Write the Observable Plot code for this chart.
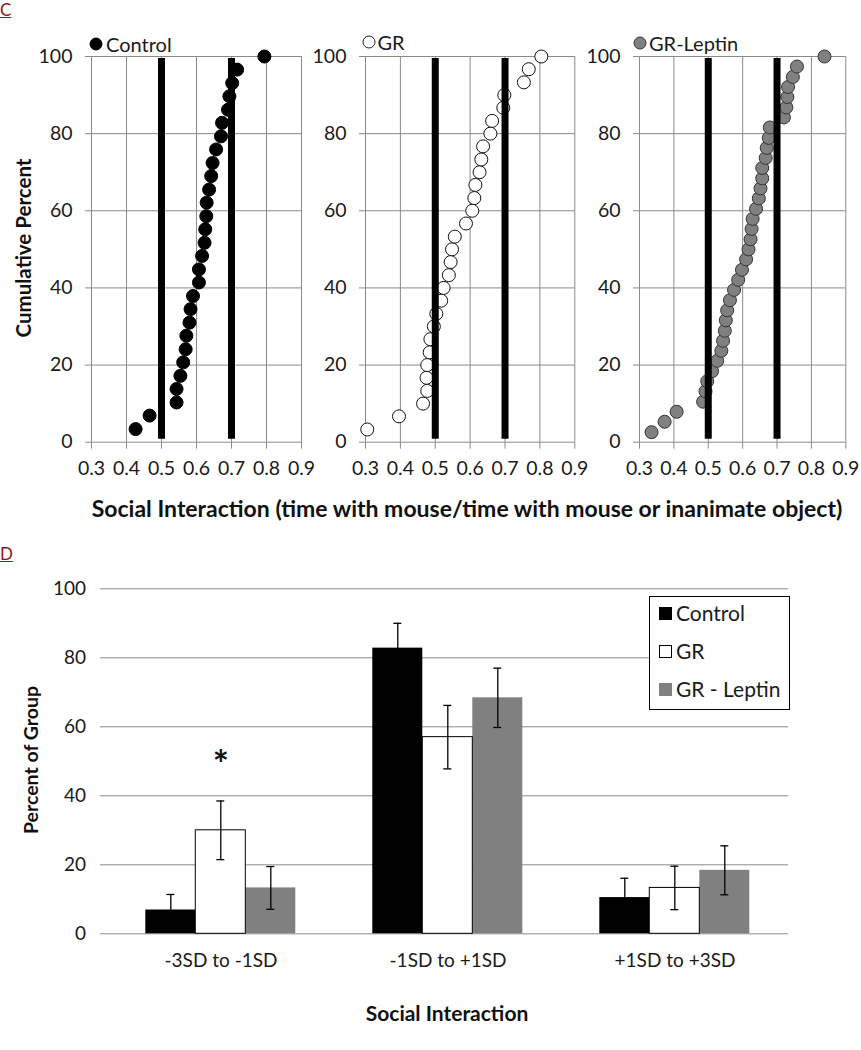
<!DOCTYPE html>
<html>
<head>
<meta charset="utf-8">
<script src="https://cdn.jsdelivr.net/npm/d3@7"></script>
<script src="https://cdn.jsdelivr.net/npm/@observablehq/plot@0.6"></script>
<style>
  html, body { margin: 0; padding: 0; background: #fff; }
  #root { position: relative; width: 861px; height: 1050px; background: #fff; overflow: hidden; font-family: Lato, "Open Sans", sans-serif; color: #1a1a1a; }
  .abs { position: absolute; white-space: nowrap; line-height: 1; }
  .ctr { transform: translate(-50%, -50%); }
  .rot { transform: translate(-50%, -50%) rotate(-90deg); }
  .panelLetter { color: #8b1a1a; text-decoration: underline; font-size: 17px; }
  .bold { font-weight: 700; color: #111; }
  .legbox { position: absolute; border: 1px solid #000; background: #fff; box-sizing: border-box; }
  .sw { position: absolute; width: 13px; height: 13px; box-sizing: border-box; }
  .dotk { position: absolute; width: 13px; height: 13px; border-radius: 50%; box-sizing: border-box; transform: translate(-50%, -50%); }
</style>
</head>
<body>
<div id="root"></div>
<script>
// ---------------- DATA ----------------
// Panel C: cumulative distributions (social interaction ratio vs cumulative percent)
const controlX = [0.426,0.466,0.543,0.543,0.554,0.562,0.569,0.571,0.580,0.583,0.590,0.607,0.607,0.616,0.623,0.625,0.628,0.629,0.636,0.642,0.646,0.656,0.670,0.673,0.690,0.694,0.702,0.716,0.794];
const controlY = [3.4,6.9,10.3,13.8,17.2,20.7,24.1,27.6,31.0,34.5,37.9,41.4,44.8,48.3,51.7,55.2,58.6,62.1,65.5,69.0,72.4,75.9,79.3,82.8,86.2,89.7,93.1,96.6,100];
const grX = [0.305,0.396,0.465,0.477,0.475,0.477,0.484,0.486,0.496,0.503,0.517,0.524,0.539,0.544,0.548,0.556,0.588,0.606,0.612,0.615,0.627,0.632,0.637,0.658,0.663,0.695,0.698,0.754,0.768,0.804];
const grY = [3.3,6.7,10,13.3,16.7,20,23.3,26.7,30,33.3,36.7,40,43.3,46.7,50,53.3,56.7,60,63.3,66.7,70,73.3,76.7,80,83.3,86.7,90,93.3,96.7,100];
const leptinX = [0.335,0.373,0.408,0.485,0.492,0.497,0.511,0.526,0.538,0.543,0.548,0.551,0.555,0.563,0.575,0.587,0.598,0.610,0.617,0.623,0.626,0.629,0.639,0.647,0.652,0.657,0.657,0.667,0.670,0.676,0.679,0.720,0.727,0.730,0.732,0.746,0.758,0.838];
const leptinY = [2.6,5.3,7.9,10.5,13.2,15.8,18.4,21.1,23.7,26.3,28.9,31.6,34.2,36.8,39.5,42.1,44.7,47.4,50,52.6,55.3,57.9,60.5,63.2,65.8,68.4,71.1,73.7,76.3,78.9,81.6,84.2,86.8,89.5,92.1,94.7,97.4,100];
const refLines = [0.5, 0.7];
const cXTicks = [0.3,0.4,0.5,0.6,0.7,0.8,0.9];
const cYTicks = [0,20,40,60,80,100];
const panelNames = ["Control", "GR", "GR-Leptin"];

// Panel D: percent of group per social-interaction band
const categories = ["-3SD to -1SD", "-1SD to +1SD", "+1SD to +3SD"];
const series = ["Control", "GR", "GR - Leptin"];
const controlPct = [6.9, 82.8, 10.5];
const grPct = [30.0, 57.0, 13.3];
const leptinPct = [13.3, 68.4, 18.4];
const controlErr = [4.5, 7.2, 5.6];
const grErr = [8.5, 9.2, 6.3];
const leptinErr = [6.2, 8.6, 7.1];
const dYTicks = [0,20,40,60,80,100];
const starCategory = "-3SD to -1SD";
const starSeries = "GR";
const starValue = 48.8;

// ---------------- LAYOUT ----------------
const root = document.getElementById("root");
const GRID = "#8a8a8a";
const TXT = "#1a1a1a";

function addDiv(cls, html, css) {
  const d = document.createElement("div");
  d.className = cls;
  d.innerHTML = html;
  Object.assign(d.style, css);
  root.appendChild(d);
  return d;
}

// ---------------- PANEL C ----------------
const panels = [
  {xs: controlX, ys: controlY, fill: "#000", stroke: "#000", left: 0, width: 310, ml: 91, mr: 9},
  {xs: grX, ys: grY, fill: "#fff", stroke: "#111", left: 310, width: 275, ml: 55, mr: 10.7},
  {xs: leptinX, ys: leptinY, fill: "#808080", stroke: "#333", left: 585, width: 276, ml: 54, mr: 15.7}
];

panels.forEach((p, k) => {
  const data = p.xs.map((x, i) => ({x, y: p.ys[i]}));
  const svg = Plot.plot({
    width: p.width, height: 490,
    marginTop: 56, marginBottom: 48.3, marginLeft: p.ml, marginRight: p.mr,
    style: {background: "transparent", overflow: "visible", fontFamily: "Lato", fontSize: "19.5px", color: TXT},
    x: {domain: [0.3, 0.9], label: null},
    y: {domain: [0, 100], label: null},
    marks: [
      Plot.gridX({ticks: cXTicks, stroke: GRID, strokeOpacity: 1, strokeWidth: 1}),
      Plot.gridY({ticks: cYTicks, stroke: GRID, strokeOpacity: 1, strokeWidth: 1}),
      Plot.axisX({ticks: cXTicks, tickFormat: d3.format(".1f"), tickSize: 7, tickPadding: 12, stroke: GRID, label: null}),
      Plot.axisY({ticks: cYTicks, tickSize: 6, tickPadding: 13, stroke: GRID, label: null}),
      Plot.dot(data, {x: "x", y: "y", r: 6.5, fill: p.fill, stroke: p.stroke, strokeWidth: 1}),
      Plot.ruleX(refLines, {y1: 0, y2: 100, insetTop: -3, insetBottom: -2, stroke: "#000", strokeWidth: 7})
    ]
  });
  svg.style.position = "absolute";
  svg.style.left = p.left + "px";
  svg.style.top = "0px";
  root.appendChild(svg);
});

// Panel C legends (one per panel)
const cLegends = [
  {cx: 96, cy: 44, tx: 106, fill: "#000", border: "#000"},
  {cx: 368.5, cy: 42, tx: 377.5, fill: "#fff", border: "#222"},
  {cx: 639.5, cy: 43, tx: 649, fill: "#808080", border: "#333"}
];
cLegends.forEach((l, k) => {
  addDiv("dotk", "", {left: l.cx + "px", top: l.cy + "px", background: l.fill, border: "1px solid " + l.border});
  addDiv("abs", panelNames[k], {left: l.tx + "px", top: (l.cy - 10.5) + "px", fontSize: "20px", color: TXT});
});

// Panel C titles
addDiv("abs panelLetter", "C", {left: "0px", top: "1px"});
addDiv("abs rot bold", "Cumulative Percent", {left: "23px", top: "248px", fontSize: "20.5px"});
addDiv("abs ctr bold", "Social Interaction (time with mouse/time with mouse or inanimate object)", {left: "467px", top: "508px", fontSize: "23px"});

// ---------------- PANEL D ----------------
const pctBySeries = [controlPct, grPct, leptinPct];
const errBySeries = [controlErr, grErr, leptinErr];
const rows = [];
categories.forEach((c, i) => {
  series.forEach((s, j) => {
    rows.push({cat: c, series: s, value: pctBySeries[j][i], err: errBySeries[j][i]});
  });
});

const dW = 861, dH = 490, dML = 106.7, dMR = 72, dMT = 28.3, dMB = 116.7;
const facetW = (dW - dML - dMR) / categories.length;
const padOuter = 0.73;
const bandW = facetW / (series.length + 2 * padOuter);
const capInset = (bandW - 9) / 2;

const dSvg = Plot.plot({
  width: dW, height: dH,
  marginTop: dMT, marginBottom: dMB, marginLeft: dML, marginRight: dMR,
  style: {background: "transparent", overflow: "visible", fontFamily: "Lato", fontSize: "19px", color: TXT},
  fx: {domain: categories, padding: 0, label: null},
  x: {domain: series, paddingInner: 0, paddingOuter: padOuter, align: 0.5, axis: null},
  y: {domain: [0, 100], label: null},
  color: {domain: series, range: ["#000", "#fff", "#808080"]},
  marks: [
    Plot.gridY({ticks: dYTicks, stroke: GRID, strokeOpacity: 1, strokeWidth: 1}),
    Plot.axisY({ticks: dYTicks, tickSize: 7, tickPadding: 14.5, stroke: GRID, label: null}),
    Plot.axisFx({anchor: "bottom", tickSize: 0, tickPadding: 20, label: null}),
    // left axis line (first facet) and category boundary tick marks
    Plot.ruleX([categories[0]], {fx: d => d, y1: 0, y2: 100, insetBottom: -7, dx: -facetW / 2, stroke: GRID}),
    Plot.ruleX(categories, {fx: d => d, y1: 0, y2: 0, insetBottom: -7, dx: -facetW / 2, stroke: GRID}),
    Plot.ruleX([categories[categories.length - 1]], {fx: d => d, y1: 0, y2: 0, insetBottom: -7, dx: facetW / 2, stroke: GRID}),
    Plot.barY(rows, {fx: "cat", x: "series", y: "value", fill: "series"}),
    Plot.barY(rows.filter(d => d.series === "GR"), {fx: "cat", x: "series", y: "value", fill: "none", stroke: "#000", strokeWidth: 1}),
    Plot.ruleX(rows, {fx: "cat", x: "series", y1: d => d.value - d.err, y2: d => d.value + d.err, stroke: "#000", strokeWidth: 1.3}),
    Plot.tickY(rows, {fx: "cat", x: "series", y: d => d.value + d.err, insetLeft: capInset, insetRight: capInset, stroke: "#000", strokeWidth: 1.3}),
    Plot.tickY(rows, {fx: "cat", x: "series", y: d => d.value - d.err, insetLeft: capInset, insetRight: capInset, stroke: "#000", strokeWidth: 1.3}),
    Plot.text([{cat: starCategory, series: starSeries, y: starValue}], {fx: "cat", x: "series", y: "y", text: () => "*", fontSize: 38, fontWeight: 700, fill: "#111"})
  ]
});
dSvg.style.position = "absolute";
dSvg.style.left = "0px";
dSvg.style.top = "560px";
root.appendChild(dSvg);

// Panel D legend
addDiv("legbox", "", {left: "649px", top: "596px", width: "141px", height: "114px"});
const legRows = [
  {y: 613, fill: "#000", border: "#000"},
  {y: 651, fill: "#fff", border: "#000"},
  {y: 689, fill: "#808080", border: "#808080"}
];
legRows.forEach((r, k) => {
  addDiv("sw", "", {left: "659px", top: (r.y - 6) + "px", background: r.fill, border: "1px solid " + r.border});
  addDiv("abs", series[k], {left: "676px", top: (r.y - 11) + "px", fontSize: "21px", color: TXT});
});

// Panel D titles
addDiv("abs panelLetter", "D", {left: "0px", top: "545px"});
addDiv("abs rot bold", "Percent of Group", {left: "31px", top: "760px", fontSize: "19.5px"});
addDiv("abs ctr bold", "Social Interaction", {left: "447px", top: "1012px", fontSize: "21px"});
</script>
</body>
</html>
